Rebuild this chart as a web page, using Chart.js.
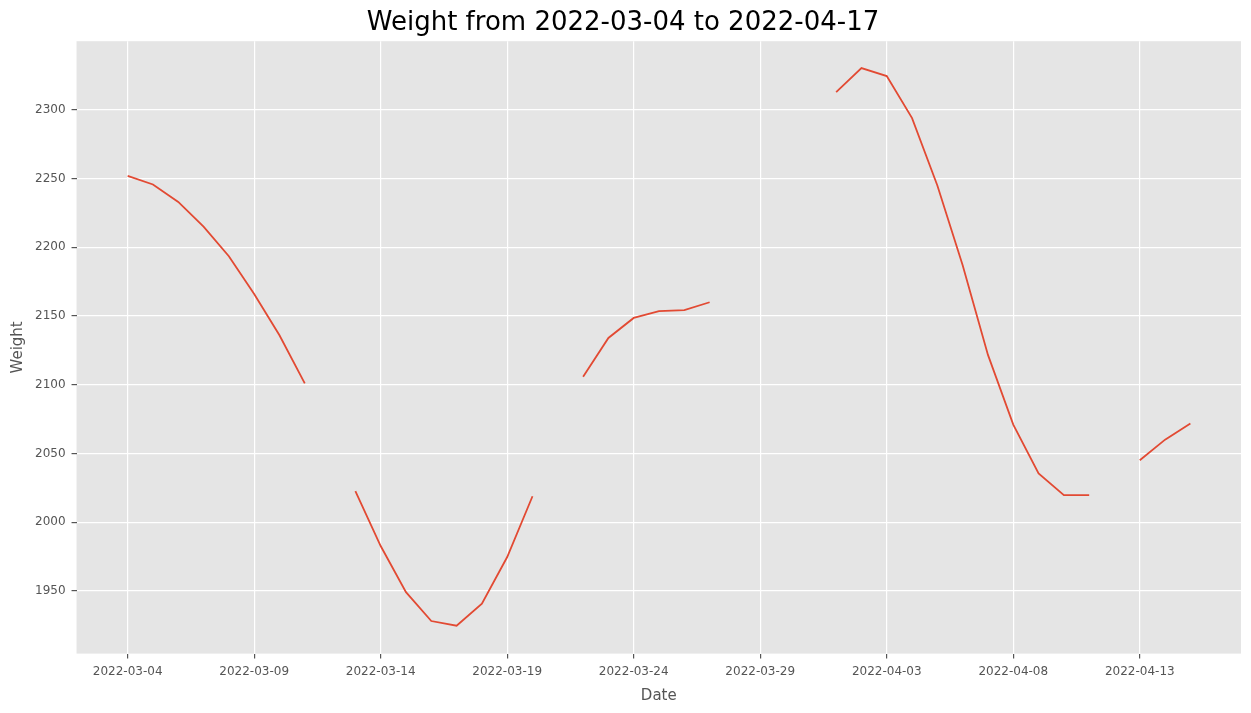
<!DOCTYPE html>
<html><head><meta charset="utf-8">
<script src="https://cdn.jsdelivr.net/npm/chart.js@4"></script>
<style>html,body{margin:0;padding:0;background:#fff}#w{width:1251px;height:713px}</style>
</head><body><div id="w"><canvas id="c"></canvas></div>
<script>
const startDate = "2022-03-04";
const dayOffsets = [0,1,2,3,4,5,6,7,8,9,10,11,12,13,14,15,16,17,18,19,20,21,22,23,24,25,26,27,28,29,30,31,32,33,34,35,36,37,38,39,40,41,42];
const weights = [2252,2245.7,2233,2215,2193.5,2166,2136,2101,null,2022.5,1982.6,1949,1928,1924.6,1940.6,1974.6,2018.8,null,2105.8,2134,2148.6,2153.6,2154.3,2160,null,null,null,null,2313,2330.4,2324.6,2294,2245,2187,2121.7,2071,2035.5,2019.6,2019.6,null,2045,2060,2071.7];
const yTicks = [1950,2000,2050,2100,2150,2200,2250,2300];

function fmt(d){const t=new Date(Date.UTC(2022,2,4+d));return t.toISOString().slice(0,10);}
const bg={id:'bg',beforeDraw(c){const a=c.chartArea,x=c.ctx;x.save();x.fillStyle='#E5E5E5';x.fillRect(a.left,a.top,a.right-a.left,a.bottom-a.top);x.restore();}};
new Chart(document.getElementById('c'),{
 type:'line',
 data:{datasets:[{data:dayOffsets.map((d,i)=>({x:d,y:weights[i]})),borderColor:'#E24A33',borderWidth:1.8,pointRadius:0,spanGaps:false,tension:0}]},
 options:{responsive:true,maintainAspectRatio:false,animation:false,
  layout:{padding:{left:5,right:10,top:0,bottom:4}},
  plugins:{legend:{display:false},tooltip:{enabled:false},
   title:{display:true,text:'Weight from 2022-03-04 to 2022-04-17',color:'#000',font:{family:'DejaVu Sans',size:26,weight:'normal'},padding:{top:8,bottom:2}}},
  scales:{
   x:{type:'linear',min:-2.02,max:44,afterBuildTicks(s){s.ticks=[0,5,10,15,20,25,30,35,40].map(v=>({value:v}));},
    ticks:{callback:v=>fmt(v),color:'#555',font:{family:'DejaVu Sans',size:12},maxRotation:0,padding:6},
    grid:{color:'#fff',lineWidth:1.2,tickColor:'#555',tickLength:5},border:{display:false},
    title:{display:true,text:'Date',color:'#555',font:{family:'DejaVu Sans',size:15},padding:{top:2}}},
   y:{min:1904.3,max:2350,afterBuildTicks(s){s.ticks=yTicks.map(v=>({value:v}));},
    ticks:{callback:v=>String(v),color:'#555',font:{family:'DejaVu Sans',size:12},padding:6},
    grid:{color:'#fff',lineWidth:1.2,tickColor:'#555',tickLength:5},border:{display:false},
    title:{display:true,text:'Weight',color:'#555',font:{family:'DejaVu Sans',size:15},padding:{bottom:2}}}
  }},
 plugins:[bg]});
</script></body></html>
